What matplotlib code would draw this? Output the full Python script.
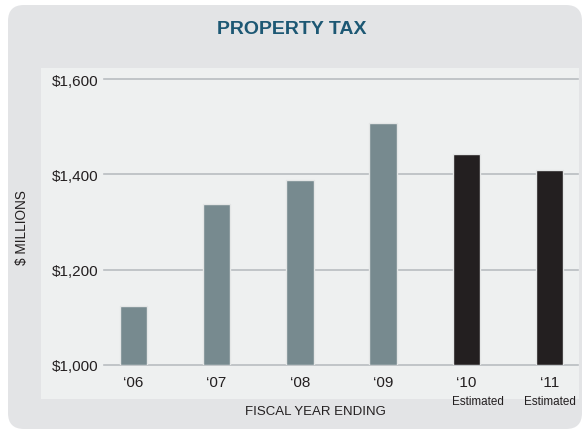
import matplotlib
matplotlib.use('Agg')
import matplotlib.pyplot as plt
import numpy as np
from matplotlib.patches import FancyBboxPatch, Rectangle
from matplotlib.transforms import IdentityTransform

years = ["\u201806", "\u201807", "\u201808", "\u201809", "\u201810", "\u201811"]
revenue = [1124, 1338, 1389, 1508, 1443, 1410]
estimated = [False, False, False, False, True, True]
yticks = [1000, 1200, 1400, 1600]

plt.rcParams['font.family'] = ['Liberation Sans', 'DejaVu Sans']

fig = plt.figure(figsize=(5.84, 4.31), dpi=100)
fig.patch.set_facecolor('white')

# backgrounds, in pixels
outer = FancyBboxPatch((8, 1), 574, 424, boxstyle="round,pad=0,rounding_size=16",
                       transform=IdentityTransform(), facecolor='#e3e4e6',
                       edgecolor='none', zorder=-2)
inner = Rectangle((41, 31), 538, 331, transform=IdentityTransform(),
                  facecolor='#eef0f0', edgecolor='none', zorder=-1)
fig.patches.extend([outer, inner])

ax = fig.add_axes([104/584, 1 - 366/431, (578-104)/584, (366-80)/431])
ax.set_facecolor('none')

x = np.arange(len(years))
colors = ['#231f20' if e else '#778a8f' for e in estimated]
for yv in yticks:
    ax.axhline(yv, color='#b9bdc1', lw=1.2, zorder=1, clip_on=False)
ax.bar(x, [v - 1000 for v in revenue], bottom=1000, width=0.33, color=colors,
       edgecolor='#e4e6e6', linewidth=1, zorder=2)

ax.set_xlim(-0.352, 5.34)
ax.set_ylim(1000, 1600)
ax.set_yticks(yticks)
ax.set_yticklabels(['${:,}'.format(v) for v in yticks], fontsize=11, color='#231f20')
ax.set_xticks(x)
ax.set_xticklabels(years, fontsize=11, color='#231f20')
ax.tick_params(axis='both', length=0)
ax.tick_params(axis='y', pad=4)
ax.tick_params(axis='x', pad=7)
for s in ax.spines.values():
    s.set_visible(False)

offsets = {4: 0.14, 5: 0.0}
for i, e in enumerate(estimated):
    if e:
        ax.annotate('Estimated', (x[i] + offsets.get(i, 0), 0),
                    xycoords=('data', 'axes fraction'), xytext=(0, -26),
                    textcoords='offset points', ha='center', va='center',
                    fontsize=8.4, color='#231f20')

fig.text(292/584, 1 - 30/431, 'PROPERTY TAX', ha='center', va='center',
         fontsize=14, fontweight='bold', color='#1d5874')
fig.text(315/584, 1 - 412/431, 'FISCAL YEAR ENDING', ha='center', va='center',
         fontsize=9.5, color='#231f20')
fig.text(22/584, 1 - 228/431, '$ MILLIONS', ha='center', va='center',
         rotation=90, fontsize=9.8, color='#231f20')

fig.savefig('out.png', dpi=100)
